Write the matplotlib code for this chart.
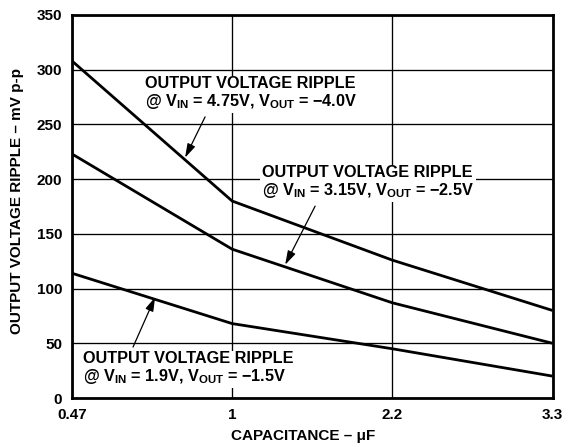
import numpy as np
import matplotlib
matplotlib.use("Agg")
import matplotlib.pyplot as plt

plt.rcParams['font.family'] = ['Liberation Sans', 'DejaVu Sans']
plt.rcParams['font.weight'] = 'bold'
plt.rcParams['mathtext.fontset'] = 'custom'
plt.rcParams['mathtext.rm'] = 'Liberation Sans:bold'
plt.rcParams['mathtext.bf'] = 'Liberation Sans:bold'
plt.rcParams['mathtext.default'] = 'bf'

# capacitance steps (equally spaced on the chart)
cap_labels = ["0.47", "1", "2.2", "3.3"]
ripple_475 = [308, 180, 126, 80]   # VIN = 4.75V, VOUT = -4.0V
ripple_315 = [223, 136, 87, 50]    # VIN = 3.15V, VOUT = -2.5V
ripple_19 = [114, 68, 45, 20]      # VIN = 1.9V,  VOUT = -1.5V
yticks = [0, 50, 100, 150, 200, 250, 300, 350]

labels = [
    "OUTPUT VOLTAGE RIPPLE\n@ $V_{IN}$ = 4.75V, $V_{OUT}$ = \u22124.0V",
    "OUTPUT VOLTAGE RIPPLE\n@ $V_{IN}$ = 3.15V, $V_{OUT}$ = \u22122.5V",
    "OUTPUT VOLTAGE RIPPLE\n@ $V_{IN}$ = 1.9V, $V_{OUT}$ = \u22121.5V",
]

x = np.arange(len(cap_labels))

fig = plt.figure(figsize=(5.7, 4.47), dpi=100)
ax = fig.add_axes([72 / 570, 49 / 447, 480.5 / 570, 383 / 447])

for s in (ripple_475, ripple_315, ripple_19):
    ax.plot(x, s, color='black', lw=2.0, zorder=3, solid_capstyle='butt')

ax.set_xlim(0, 3)
ax.set_ylim(0, 350)
ax.set_xticks(x)
ax.set_xticklabels(cap_labels)
ax.set_yticks(yticks)
ax.grid(True, color='black', lw=0.95)
ax.set_axisbelow(True)
ax.tick_params(length=0, labelsize=11)
ax.tick_params(axis='y', pad=7)
ax.tick_params(axis='x', pad=7)
for sp in ax.spines.values():
    sp.set_linewidth(2.0)

ax.set_xlabel("CAPACITANCE \u2013 \u03bcF", fontsize=11, fontweight='bold', va='center')
ax.set_ylabel("OUTPUT VOLTAGE RIPPLE \u2013 mV p-p", fontsize=11, fontweight='bold', va='center')
ax.xaxis.set_label_coords(0.48, -0.099)
ax.yaxis.set_label_coords(-0.1145, 0.514)

# text blocks (axes fraction) and arrows
text_pos = [(0.152, 0.795), (0.395, 0.563), (0.023, 0.077)]
tails = [(0.277, 0.734), (0.506, 0.501), (0.127, 0.133)]
tip_x = [0.706, 1.331, 0.519]
series = [ripple_475, ripple_315, ripple_19]

for lab, tp, tl, tx, s in zip(labels, text_pos, tails, tip_x, series):
    ax.text(tp[0], tp[1], lab, transform=ax.transAxes, ha='left', va='center',
            fontsize=11.7, fontweight='bold', linespacing=1.1, zorder=4,
            bbox=dict(facecolor='white', edgecolor='none', pad=1.5))
    ty = np.interp(tx, x, s)
    ax.annotate("", xy=(tx, ty + 2), xytext=tl, textcoords='axes fraction',
                arrowprops=dict(arrowstyle='-|>,head_length=0.6,head_width=0.18',
                                color='black', lw=0.9, mutation_scale=14,
                                shrinkA=0, shrinkB=0), zorder=5)

fig.savefig("out.png", dpi=100)
